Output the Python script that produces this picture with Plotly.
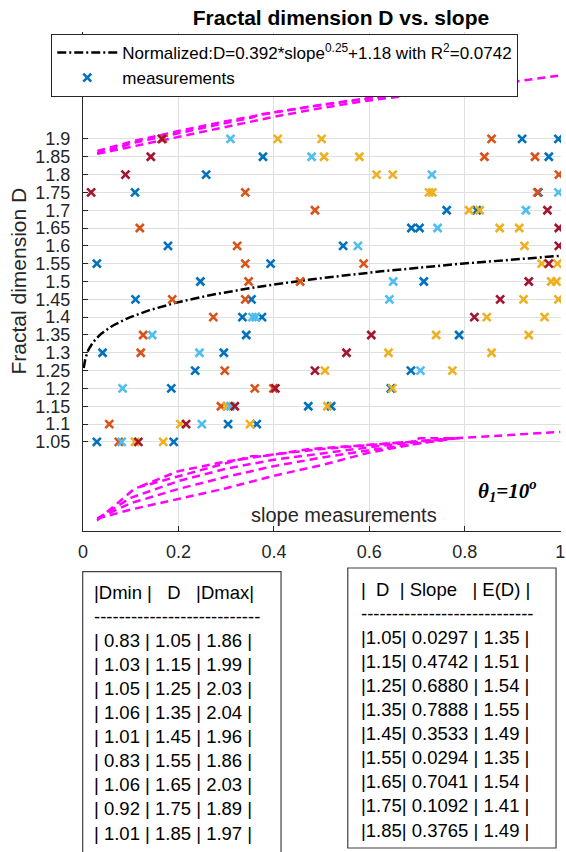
import numpy as np
import plotly.graph_objects as go

# ---------------- data ----------------
# measurements (x = slope, y = fractal dimension D), grouped by marker colour
blue_x = [0.920, 0.996, 0.377, 0.976, 0.258, 0.109, 0.954, 0.762, 0.825, 0.688, 0.705, 0.178, 0.545,
          0.029, 0.393, 0.246, 0.714, 0.110, 0.353, 0.334, 0.375, 0.342, 0.788, 0.041, 0.295, 0.235,
          0.687, 0.185, 0.645, 0.472, 0.520, 0.304, 0.364, 0.029, 0.190]
blue_y = [1.90, 1.90, 1.85, 1.85, 1.80, 1.75, 1.75, 1.70, 1.70, 1.65, 1.65, 1.60, 1.60,
          1.55, 1.55, 1.50, 1.50, 1.45, 1.45, 1.40, 1.40, 1.35, 1.35, 1.30, 1.30, 1.25,
          1.25, 1.20, 1.20, 1.15, 1.15, 1.10, 1.10, 1.05, 1.05]

orange_x = [0.167, 0.856, 0.841, 0.947, 0.997, 0.340, 0.952, 0.486, 0.119, 0.323, 0.340, 0.588,
            0.347, 0.455, 0.187, 0.340, 0.273, 0.126, 0.121, 0.297, 0.360, 0.399, 0.289, 0.055, 0.075]
orange_y = [1.90, 1.90, 1.85, 1.85, 1.80, 1.75, 1.75, 1.70, 1.65, 1.60, 1.55, 1.55,
            1.50, 1.50, 1.45, 1.45, 1.40, 1.35, 1.30, 1.25, 1.20, 1.20, 1.15, 1.10, 1.05]

yellow_x = [0.408, 0.500, 0.505, 0.579, 0.615, 0.649, 0.725, 0.732, 0.809, 0.831, 0.873, 0.914,
            0.925, 0.961, 0.994, 0.981, 0.992, 0.923, 0.996, 0.846, 0.967, 0.740, 0.934, 0.640,
            0.856, 0.507, 0.774, 0.648, 0.301, 0.512, 0.204, 0.350, 0.109, 0.168]
yellow_y = [1.90, 1.90, 1.85, 1.85, 1.80, 1.80, 1.75, 1.75, 1.70, 1.70, 1.65, 1.65,
            1.60, 1.55, 1.55, 1.50, 1.50, 1.45, 1.45, 1.40, 1.40, 1.35, 1.35, 1.30,
            1.30, 1.25, 1.25, 1.20, 1.15, 1.15, 1.10, 1.10, 1.05, 1.05]

lightblue_x = [0.309, 0.479, 0.731, 0.996, 0.928, 0.743, 0.576, 0.650, 0.642, 0.355, 0.362,
               0.145, 0.244, 0.707, 0.083, 0.309, 0.249, 0.081]
lightblue_y = [1.90, 1.85, 1.80, 1.75, 1.70, 1.65, 1.60, 1.50, 1.45, 1.40, 1.40,
               1.35, 1.30, 1.25, 1.20, 1.15, 1.10, 1.05]

darkred_x = [0.165, 0.142, 0.089, 0.017, 0.973, 0.997, 0.997, 0.976, 0.934, 0.874, 0.820,
             0.604, 0.552, 0.486, 0.403, 0.318, 0.216, 0.116]
darkred_y = [1.90, 1.85, 1.80, 1.75, 1.70, 1.65, 1.60, 1.55, 1.50, 1.45, 1.40,
             1.35, 1.30, 1.25, 1.20, 1.15, 1.10, 1.05]

# tables printed below the chart
tab_dmin = [0.83, 1.03, 1.05, 1.06, 1.01, 0.83, 1.06, 0.92, 1.01]
tab_d = [1.05, 1.15, 1.25, 1.35, 1.45, 1.55, 1.65, 1.75, 1.85]
tab_dmax = [1.86, 1.99, 2.03, 2.04, 1.96, 1.86, 2.03, 1.89, 1.97]
tab_slope = [0.0297, 0.4742, 0.6880, 0.7888, 0.3533, 0.0294, 0.7041, 0.1092, 0.3765]
tab_ed = [1.35, 1.51, 1.54, 1.55, 1.49, 1.35, 1.54, 1.41, 1.49]

# magenta bound curves
low_x = [0.03, 0.10, 0.20, 0.30, 0.40, 0.50, 0.60, 0.70, 0.78]
low_top_x = [0.12, 0.20, 0.30, 0.40, 0.50, 0.60, 0.70, 0.78]
low_top_y = [0.925, 0.968, 0.995, 1.015, 1.030, 1.042, 1.052, 1.060]
low_mid_a_y = [0.835, 0.893, 0.940, 0.975, 1.000, 1.018, 1.035, 1.050, 1.060]
low_mid_b_y = [0.835, 0.878, 0.918, 0.952, 0.982, 1.006, 1.027, 1.046, 1.060]
low_bot_y = [0.835, 0.860, 0.890, 0.920, 0.955, 0.985, 1.020, 1.045, 1.060]
low_tail_x = [0.78, 1.00]
low_tail_y = [1.060, 1.078]

up_x = [0.03, 0.10, 0.20, 0.30, 0.40, 0.50, 0.60, 0.70, 0.79]
up_a_y = [1.858, 1.878, 1.906, 1.935, 1.962, 1.987, 2.008, 2.025, 2.038]
up_b_y = [1.866, 1.892, 1.922, 1.950, 1.974, 1.996, 2.015, 2.030, 2.040]
up_tail_x = [0.79, 1.00]
up_tail_y = [2.040, 2.078]

# fitted model stated in the legend: D = a*slope^b + c
fit_a, fit_b, fit_c = 0.392, 0.25, 1.18

x_ticks = [0, 0.2, 0.4, 0.6, 0.8, 1]
x_ticktext = ["0", "0.2", "0.4", "0.6", "0.8", "1"]
y_ticks = [1.05, 1.1, 1.15, 1.2, 1.25, 1.3, 1.35, 1.4, 1.45, 1.5, 1.55, 1.6, 1.65, 1.7, 1.75,
           1.8, 1.85, 1.9]
y_ticktext = ["1.05", "1.1", "1.15", "1.2", "1.25", "1.3", "1.35", "1.4", "1.45", "1.5", "1.55",
              "1.6", "1.65", "1.7", "1.75", "1.8", "1.85", "1.9"]

# ---------------- layout geometry ----------------
W, H = 566, 852
ML, MR, MT, MB = 83, 1, 32, 321
PW = W - ML - MR
PH = H - MT - MB


def px_x(X):
    return (X - ML) / PW


def px_y(Y):
    return (H - MB - Y) / PH


SANS = "Liberation Sans, Arial, Helvetica, sans-serif"
GRAY = "#262626"
MAGENTA = "#FF00FF"

fig = go.Figure()

# magenta bound curves
order = np.argsort(tab_slope)
dmin_sorted_x = [tab_slope[i] for i in order]
dmin_sorted_y = [tab_dmin[i] for i in order]
dmax_sorted_y = [tab_dmax[i] for i in order]

mag_curves = [
    (low_top_x, low_top_y), (dmin_sorted_x, dmin_sorted_y), (low_x, low_mid_a_y),
    (low_x, low_mid_b_y), (low_x, low_bot_y), (low_tail_x, low_tail_y),
    (dmin_sorted_x, dmax_sorted_y), (up_x, up_a_y), (up_x, up_b_y), (up_tail_x, up_tail_y),
]
for cx, cy in mag_curves:
    fig.add_trace(go.Scatter(x=cx, y=cy, mode="lines", showlegend=False, hoverinfo="skip",
                             line=dict(color=MAGENTA, width=2.5, dash="8px,5px")))

# fitted curve
fit_x = np.concatenate([np.geomspace(0.0015, 0.05, 40), np.linspace(0.05, 1.0, 120)[1:]])
fit_y = fit_a * fit_x ** fit_b + fit_c
fig.add_trace(go.Scatter(
    x=fit_x, y=fit_y, mode="lines", legendrank=1,
    name="Normalized:D=0.392*slope<sup>0.25</sup>+1.18 with R<sup>2</sup>=0.0742",
    line=dict(color="black", width=2.5, dash="9px,3px,2px,3px")))

# measurements
groups = [
    (blue_x, blue_y, "#0072BD", True),
    (orange_x, orange_y, "#D95319", False),
    (yellow_x, yellow_y, "#EDB120", False),
    (lightblue_x, lightblue_y, "#4DBEEE", False),
    (darkred_x, darkred_y, "#A2142F", False),
]
for gx, gy, col, show in groups:
    fig.add_trace(go.Scatter(
        x=gx, y=gy, mode="markers", name="measurements", showlegend=show, legendrank=2,
        marker=dict(symbol="x-thin", size=8, color=col, line=dict(color=col, width=2.6))))

# ---------------- tables ----------------
NB = "\u00a0"
left_lines = ["|Dmin |   D   |Dmax|", "-" * 27]
for a, b, c in zip(tab_dmin, tab_d, tab_dmax):
    left_lines.append(f"| {a:.2f} | {b:.2f} | {c:.2f} |")
right_lines = ["|  D  | Slope   | E(D) |", "-" * 28]
for a, b, c in zip(tab_d, tab_slope, tab_ed):
    right_lines.append(f"|{a:.2f}| {b:.4f} | {c:.2f} |")
left_text = "<br>".join(s.replace(" ", NB) for s in left_lines)
right_text = "<br>".join(s.replace(" ", NB) for s in right_lines)

TFONT = 18.5
annotations = [
    dict(text="Fractal dimension D", textangle=-90, x=px_x(17.5), y=px_y(281.5),
         xref="paper", yref="paper", showarrow=False, xanchor="center", yanchor="middle",
         font=dict(family=SANS, size=21, color=GRAY)),
    dict(text="slope measurements", x=px_x(346), y=px_y(515), xref="paper", yref="paper",
         showarrow=False, xanchor="center", yanchor="middle",
         font=dict(family=SANS, size=20, color=GRAY)),
    dict(text="<b><i>θ<sub>1</sub>=10<sup>o</sup></i></b>", x=px_x(511), y=px_y(490),
         xref="paper", yref="paper", showarrow=False, xanchor="center", yanchor="middle",
         font=dict(family="Liberation Serif, Times New Roman, serif", size=21, color="black")),
    dict(text=left_text, x=px_x(92), y=px_y(579.7), xref="paper", yref="paper", showarrow=False,
         xanchor="left", yanchor="top", align="left",
         font=dict(family=SANS, size=TFONT, color="black")),
    dict(text=right_text, x=px_x(361.5), y=px_y(577.3), xref="paper", yref="paper",
         showarrow=False, xanchor="left", yanchor="top", align="left",
         font=dict(family=SANS, size=TFONT, color="black")),
]

shapes = [
    dict(type="rect", xref="paper", yref="paper", x0=px_x(82.7), x1=px_x(282.7),
         y0=px_y(571.7), y1=px_y(900), line=dict(color="#404040", width=1.2),
         fillcolor="rgba(0,0,0,0)"),
    dict(type="rect", xref="paper", yref="paper", x0=px_x(350), x1=px_x(560),
         y0=px_y(568), y1=px_y(848), line=dict(color="#404040", width=1.2),
         fillcolor="rgba(0,0,0,0)"),
]

axis_common = dict(
    showgrid=True, gridcolor="#dfdfdf", gridwidth=1, zeroline=False,
    showline=True, linecolor=GRAY, linewidth=1, mirror=False,
    ticks="inside", ticklen=5, tickcolor=GRAY, tickwidth=1,
    tickfont=dict(family=SANS, size=18, color=GRAY), ticklabeloverflow="allow",
)

fig.update_layout(
    width=W, height=H, autosize=False,
    margin=dict(l=ML, r=MR, t=MT, b=MB, pad=0),
    paper_bgcolor="white", plot_bgcolor="white",
    title=dict(text="Fractal dimension D vs. slope", x=341 / W, xref="container", xanchor="center",
               y=1 - 18 / H, yref="container", yanchor="middle",
               font=dict(family=SANS, size=21, color="black", weight="bold")),
    xaxis=dict(range=[0, 1.0015], tickvals=x_ticks, ticktext=x_ticktext, ticklabelstandoff=4,
               **axis_common),
    yaxis=dict(range=[0.8, 2.2], tickvals=y_ticks, ticktext=y_ticktext, ticklabelstandoff=8,
               **axis_common),
    legend=dict(x=px_x(51), xref="paper", y=px_y(34), yref="paper",
                xanchor="left", yanchor="top", bgcolor="white", bordercolor=GRAY, borderwidth=1,
                font=dict(family=SANS, size=17, color="black"), itemwidth=60, tracegroupgap=0),
    annotations=annotations,
    shapes=shapes,
    showlegend=True,
)

fig.write_html("out.html")
